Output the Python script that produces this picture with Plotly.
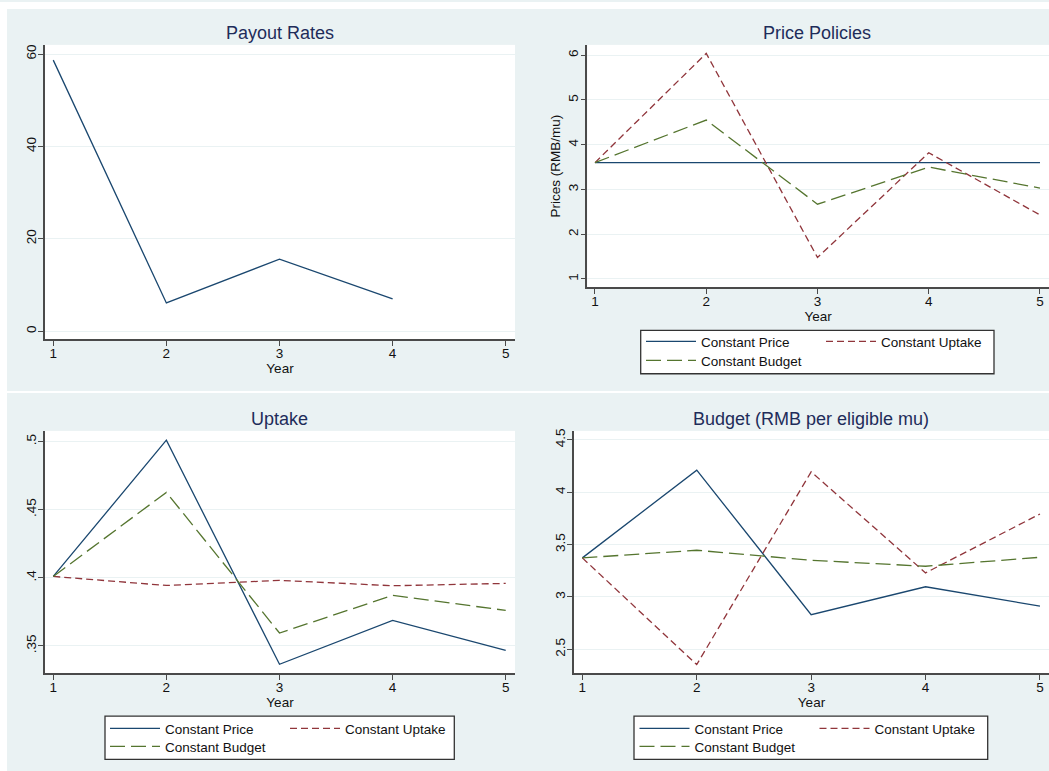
import plotly.graph_objects as go

W, H = 1049, 771

# ---- data -------------------------------------------------------------
years = [1, 2, 3, 4, 5]
payout_years = [1, 2, 3, 4]
payout_rates = [58.7, 6.1, 15.6, 7.0]

price_const_price = [3.6, 3.6, 3.6, 3.6, 3.6]
price_const_uptake = [3.6, 6.04, 1.48, 3.82, 2.43]
price_const_budget = [3.6, 4.55, 2.67, 3.50, 3.03]

uptake_const_price = [0.401, 0.501, 0.3366, 0.3688, 0.3468]
uptake_const_uptake = [0.401, 0.3944, 0.3981, 0.3942, 0.3959]
uptake_const_budget = [0.401, 0.4627, 0.3595, 0.3871, 0.3761]

budget_const_price = [3.373, 4.211, 2.83, 3.097, 2.912]
budget_const_uptake = [3.373, 2.354, 4.195, 3.23, 3.792]
budget_const_budget = [3.373, 3.446, 3.35, 3.293, 3.379]

series_names = ["Constant Price", "Constant Uptake", "Constant Budget"]

year_ticks = [1, 2, 3, 4, 5]
payout_ticks = [0, 20, 40, 60]
price_ticks = [1, 2, 3, 4, 5, 6]
uptake_ticks = [0.35, 0.40, 0.45, 0.50]
uptake_tick_text = [".35", ".4", ".45", ".5"]
budget_ticks = [2.5, 3.0, 3.5, 4.0, 4.5]
budget_tick_text = ["2.5", "3", "3.5", "4", "4.5"]

# ---- styling ----------------------------------------------------------
FONT = "Liberation Sans, Arial, Helvetica, sans-serif"
BG = "#EAF2F3"
NAVY = "#1a476f"
MAROON = "#90353b"
GREEN = "#55752f"
AXIS = "#4a4a4a"
TITLE = "#1e2c5a"
TICK_SIZE = 13.5

line_styles = {
    "Constant Price": dict(color=NAVY, width=1.3),
    "Constant Uptake": dict(color=MAROON, width=1.3, dash="7px,4px"),
    "Constant Budget": dict(color=GREEN, width=1.3, dash="15px,6px"),
}


def px_x(p):
    return p / W


def px_y(p):
    return 1 - p / H


fig = go.Figure()

# Payout rates
fig.add_trace(go.Scatter(x=payout_years, y=payout_rates, mode="lines",
                         line=line_styles["Constant Price"], showlegend=False,
                         xaxis="x", yaxis="y"))

# each legend entry gets its own legend box so the key reads as a 2-column grid
panels = [
    ("x2", "y2", [price_const_price, price_const_uptake, price_const_budget], ("legend", "legend2", "legend3")),
    ("x3", "y3", [uptake_const_price, uptake_const_uptake, uptake_const_budget], ("legend4", "legend5", "legend6")),
    ("x4", "y4", [budget_const_price, budget_const_uptake, budget_const_budget], ("legend7", "legend8", "legend9")),
]
for xa, ya, vals, legs in panels:
    for name, v, leg in zip(series_names, vals, legs):
        fig.add_trace(go.Scatter(
            x=years, y=v, mode="lines", name=name, line=line_styles[name],
            xaxis=xa, yaxis=ya, legend=leg,
        ))


def xaxis_cfg(x0, x1, y_anchor, rng):
    return dict(
        domain=[px_x(x0), min(px_x(x1), 1.0)], anchor=y_anchor, range=rng,
        tickvals=year_ticks, ticks="outside", ticklen=5, tickwidth=1.2,
        tickcolor=AXIS, showline=True, linecolor=AXIS, linewidth=1.5,
        showgrid=False, zeroline=False, ticklabelstandoff=-4,
        tickfont=dict(size=TICK_SIZE, color="#111", family=FONT),
        title=dict(text="Year", standoff=0, font=dict(size=TICK_SIZE, color="#111", family=FONT)),
    )


def yaxis_cfg(y0, y1, x_anchor, rng, tv, tt=None, title=None):
    d = dict(
        domain=[px_y(y1), px_y(y0)], anchor=x_anchor, range=rng,
        tickvals=tv, ticktext=tt if tt is not None else [str(t) for t in tv],
        tickangle=-90, ticks="outside", ticklen=5, tickwidth=1.2,
        tickcolor=AXIS, showline=True, linecolor=AXIS, linewidth=1.5,
        showgrid=True, gridcolor=BG, gridwidth=1.2, zeroline=False,
        ticklabelstandoff=-3,
        tickfont=dict(size=TICK_SIZE, color="#111", family=FONT),
    )
    if title:
        d["title"] = dict(text=title, standoff=2, font=dict(size=TICK_SIZE, color="#111", family=FONT))
    return d


def legend_cfg(xp, yc):
    # yc: vertical centre of the entry in pixels
    return dict(x=px_x(xp), y=px_y(yc - 16), xanchor="left", yanchor="top",
                orientation="v", bgcolor="rgba(0,0,0,0)", borderwidth=0,
                itemwidth=50, tracegroupgap=0,
                font=dict(size=13.5, color="#111", family=FONT))


fig.update_layout(
    width=W, height=H, autosize=False,
    margin=dict(l=0, r=0, t=0, b=0, pad=0),
    paper_bgcolor=BG, plot_bgcolor="white",
    font=dict(family=FONT, size=TICK_SIZE, color="#111"),
    xaxis=xaxis_cfg(45, 515, "y", [0.927, 5.082]),
    yaxis=yaxis_cfg(43, 338, "x", [-1.73, 62.0], payout_ticks),
    xaxis2=xaxis_cfg(587.3, 1049, "y2", [0.931, 5.081]),
    yaxis2=yaxis_cfg(43, 286, "x2", [0.815, 6.23], price_ticks, title="Prices (RMB/mu)"),
    xaxis3=xaxis_cfg(45, 515, "y3", [0.927, 5.082]),
    yaxis3=yaxis_cfg(430, 672.7, "x3", [0.3302, 0.5078], uptake_ticks, uptake_tick_text),
    xaxis4=xaxis_cfg(574, 1049, "y4", [0.927, 5.079]),
    yaxis4=yaxis_cfg(430, 672.7, "x4", [2.274, 4.586], budget_ticks, budget_tick_text),
    legend=legend_cfg(641, 341),
    legend2=legend_cfg(821, 341),
    legend3=legend_cfg(641, 360),
    legend4=legend_cfg(105, 729),
    legend5=legend_cfg(285, 729),
    legend6=legend_cfg(105, 747),
    legend7=legend_cfg(634.5, 729),
    legend8=legend_cfg(814.5, 729),
    legend9=legend_cfg(634.5, 747),
)

# Panel titles
titles = [("Payout Rates", 279.5, 31), ("Price Policies", 817, 31),
          ("Uptake", 279.5, 418), ("Budget (RMB per eligible mu)", 811, 418)]
for text, cx, cy in titles:
    fig.add_annotation(text=text, x=px_x(cx), y=px_y(cy), xref="paper", yref="paper",
                       xanchor="center", yanchor="middle", showarrow=False,
                       font=dict(size=18, color=TITLE, family=FONT))

# White margins around the combined graph and the gap between rows
shapes = [
    dict(type="rect", xref="paper", yref="paper", x0=0, x1=1, y0=px_y(7), y1=1,
         fillcolor="white", line=dict(width=0), layer="below"),
    dict(type="rect", xref="paper", yref="paper", x0=0, x1=px_x(7), y0=0, y1=1,
         fillcolor="white", line=dict(width=0), layer="below"),
    dict(type="rect", xref="paper", yref="paper", x0=0, x1=1, y0=px_y(392), y1=px_y(390),
         fillcolor="white", line=dict(width=0), layer="below"),
]
# Legend frames
for x0, y0, x1, y1 in [(640.7, 329.3, 994, 372.7), (105, 716, 454.3, 759.3), (634, 716, 987.7, 759.3)]:
    shapes.append(dict(type="rect", xref="paper", yref="paper",
                       x0=px_x(x0), x1=px_x(x1), y0=px_y(y1), y1=px_y(y0),
                       fillcolor="white", line=dict(color="#333333", width=1.3), layer="below"))
fig.update_layout(shapes=shapes)

fig.write_html("out.html")
